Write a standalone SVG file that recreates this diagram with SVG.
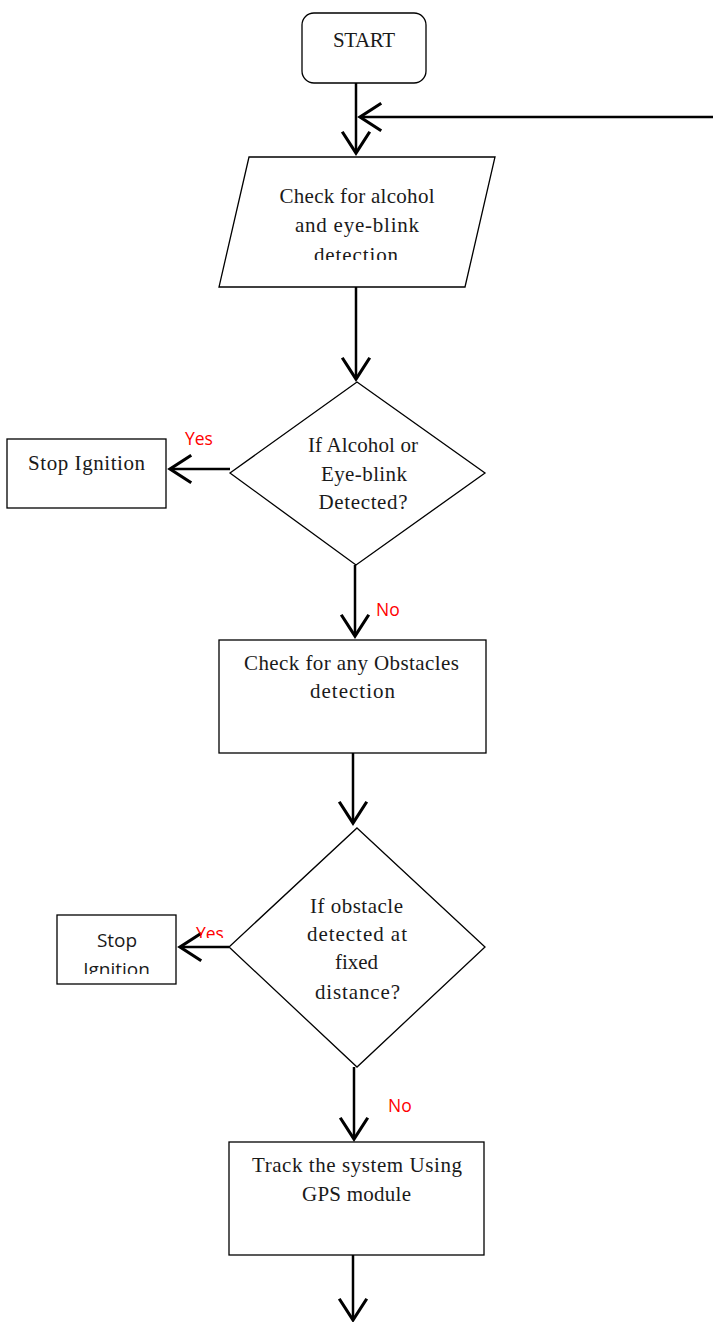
<svg xmlns="http://www.w3.org/2000/svg" width="713" height="1322" viewBox="0 0 713 1322">
<defs>
<style>
.shape{fill:#fff;stroke:#000;stroke-width:1.3}
.serif{font-family:"Liberation Serif","DejaVu Serif",serif;font-size:21px;fill:#1a1a1a;text-anchor:middle}
.sans{font-family:"Open Sans","Liberation Sans",sans-serif;font-size:19px;fill:#1a1a1a;text-anchor:middle}
.lbl{font-family:"Open Sans","Liberation Sans",sans-serif;font-size:17.5px;fill:#ff0000}
.conn{fill:none;stroke:#000;stroke-width:2.5}
</style>
<marker id="arr" markerUnits="userSpaceOnUse" markerWidth="30" markerHeight="30" viewBox="-20 -12 24 24" refX="0" refY="0" orient="auto" overflow="visible">
<path d="M-17,-11 L0,0 L-17,11" fill="none" stroke="#000" stroke-width="2.5"/>
</marker>
<clipPath id="c1"><rect x="200" y="150" width="300" height="110"/></clipPath>
<clipPath id="c2"><rect x="50" y="910" width="130" height="64"/></clipPath>
<clipPath id="c3"><rect x="180" y="900" width="60" height="38"/></clipPath>
</defs>
<g id="connectors">
<line class="conn" x1="356" y1="83" x2="356" y2="153" marker-end="url(#arr)"/>
<line class="conn" x1="713" y1="117" x2="360" y2="117" marker-end="url(#arr)"/>
<line class="conn" x1="356" y1="287" x2="356" y2="379" marker-end="url(#arr)"/>
<line class="conn" x1="230" y1="469" x2="170" y2="469" marker-end="url(#arr)"/>
<line class="conn" x1="355" y1="565" x2="355" y2="636" marker-end="url(#arr)"/>
<line class="conn" x1="353" y1="753" x2="353" y2="823" marker-end="url(#arr)"/>
<line class="conn" x1="229" y1="947" x2="180" y2="947" marker-end="url(#arr)"/>
<line class="conn" x1="354" y1="1067" x2="354" y2="1139" marker-end="url(#arr)"/>
<line class="conn" x1="353" y1="1255" x2="353" y2="1320" marker-end="url(#arr)"/>
</g>
<g id="start">
<rect class="shape" x="302" y="13" width="124" height="70" rx="12"/>
<text class="serif" x="364" y="47" textLength="62">START</text>
</g>
<g id="check-alcohol">
<polygon class="shape" points="249,157 495,157 465,287 219,287"/>
<text class="serif" x="357" y="203" textLength="155">Check for alcohol</text>
<text class="serif" x="357" y="232" textLength="124">and eye-blink</text>
<text class="serif" x="356" y="262" textLength="84" clip-path="url(#c1)">detection</text>
</g>
<g id="decision-alcohol">
<polygon class="shape" points="357,382 485,473 356,565 230,473"/>
<text class="serif" x="363" y="452" textLength="110">If Alcohol or</text>
<text class="serif" x="364" y="481" textLength="86">Eye-blink</text>
<text class="serif" x="363" y="509" textLength="89">Detected?</text>
</g>
<g id="stop-ignition-1">
<rect class="shape" x="7" y="439" width="159" height="69"/>
<text class="serif" x="86.5" y="470" textLength="117">Stop Ignition</text>
</g>
<text class="lbl" x="185" y="445">Yes</text>
<text class="lbl" x="376" y="616">No</text>
<g id="check-obstacles">
<rect class="shape" x="219" y="640" width="267" height="113"/>
<text class="serif" x="351.5" y="670" textLength="215">Check for any Obstacles</text>
<text class="serif" x="352.5" y="698" textLength="85">detection</text>
</g>
<g id="decision-obstacle">
<polygon class="shape" points="357,828 485,947 357,1067 229,947"/>
<text class="serif" x="356.5" y="913" textLength="93">If obstacle</text>
<text class="serif" x="357" y="941" textLength="100">detected at</text>
<text class="serif" x="356.5" y="969" textLength="43">fixed</text>
<text class="serif" x="357.5" y="999" textLength="85">distance?</text>
</g>
<g id="stop-ignition-2">
<rect class="shape" x="57" y="915" width="119" height="69"/>
<text class="sans" x="117" y="947">Stop</text>
<text class="sans" x="116.5" y="976" clip-path="url(#c2)">Ignition</text>
</g>
<text class="lbl" x="196" y="940" clip-path="url(#c3)">Yes</text>
<text class="lbl" x="388" y="1112">No</text>
<g id="track-gps">
<rect class="shape" x="229" y="1142" width="255" height="113"/>
<text class="serif" x="357" y="1172" textLength="210">Track the system Using</text>
<text class="serif" x="356.5" y="1201" textLength="109">GPS module</text>
</g>
</svg>
